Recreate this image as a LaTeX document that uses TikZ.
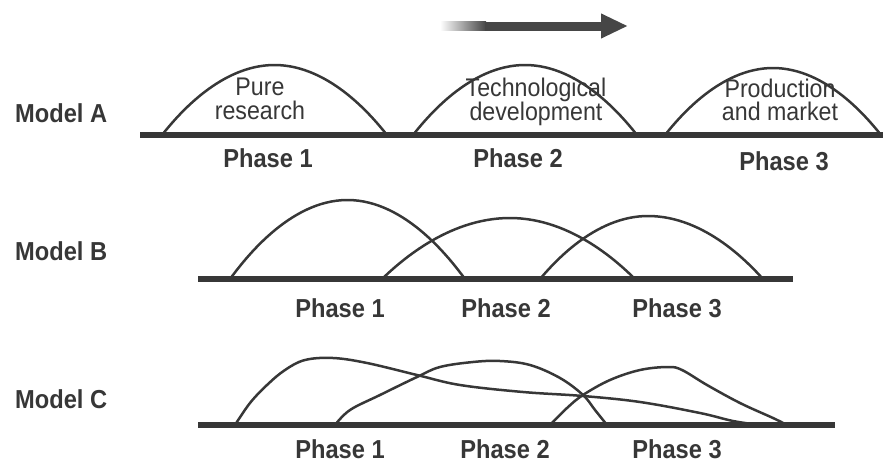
\documentclass[tikz,border=0pt]{standalone}
\usepackage{fontspec}
\setmainfont{Liberation Sans}
\newfontfamily\tallSans[FakeStretch=0.91]{Liberation Sans}
\usetikzlibrary{arrows.meta}
\definecolor{inkGray}{RGB}{55,55,55}
\definecolor{arrowGray}{RGB}{70,70,70}
\tikzset{modelLabel/.style={font=\tallSans\fontsize{26}{28}\selectfont\bfseries, text=inkGray, anchor=base west, inner sep=0pt}}
\tikzset{phaseLabel/.style={font=\tallSans\fontsize{26}{28}\selectfont\bfseries, text=inkGray, anchor=base, inner sep=0pt}}
\tikzset{stageText/.style={font=\tallSans\fontsize{25.5}{23.5}\selectfont, text=inkGray, align=center, inner sep=0pt}}
\tikzset{baseLine/.style={line width=5.5pt, draw=inkGray}}
\tikzset{phaseArc/.style={line width=2.5pt, draw=inkGray, line cap=round}}

\begin{document}
\begin{tikzpicture}[x=1pt, y=-1pt]

\useasboundingbox (0,0) rectangle (883,463);

% Direction arrow
\coordinate (arrowTail) at (440,26);
\coordinate (arrowMid) at (485,26);
\coordinate (arrowTip) at (628,26);
\shade[left color=white, right color=arrowGray] (440,21.5) rectangle (486,30.5);
\draw[line width=9pt, arrowGray, -{Triangle[length=27pt, width=23pt]}] (arrowMid) -- (arrowTip);

% Model A
\node[modelLabel] (mA) at (15,122) {Model A};
\draw[baseLine] (140,135) -- (883,135);
\draw[phaseArc] (162,135) parabola bend (274.5,65) (387,135);
\draw[phaseArc] (413,135) parabola bend (525,65) (637,135);
\draw[phaseArc] (665,135) parabola bend (773,68) (881,135);
\node[stageText] (sA1) at (260,99) {Pure\\research};
\node[stageText] (sA2) at (536,102) {Technological\\development};
\node[stageText] (sA3) at (780,100) {Production\\and market};
\node[phaseLabel] (pA1) at (268,167) {Phase 1};
\node[phaseLabel] (pA2) at (518,167) {Phase 2};
\node[phaseLabel] (pA3) at (784,170) {Phase 3};

% Model B
\node[modelLabel] (mB) at (15,260) {Model B};
\draw[baseLine] (198,279) -- (793,279);
\draw[phaseArc] (230,279) parabola bend (347.5,200) (465,279);
\draw[phaseArc] (382,279) parabola bend (510,218) (635,279);
\draw[phaseArc] (540,279) parabola bend (648,216) (763,279);
\node[phaseLabel] (pB1) at (340,317) {Phase 1};
\node[phaseLabel] (pB2) at (506,317) {Phase 2};
\node[phaseLabel] (pB3) at (677,317) {Phase 3};

% Model C
\node[modelLabel] (mC) at (15,408) {Model C};
\draw[baseLine] (198,425) -- (835,425);
\draw[phaseArc] plot[smooth, tension=0.6] coordinates {(235,425) (250,403) (267,385) (285,370) (305,360) (333,358) (367,363) (417,375) (460,385) (523,392) (583,396) (640,402) (700,413) (733,421) (760,425)};
\draw[phaseArc] plot[smooth, tension=0.6] coordinates {(335,425) (350,410) (380,395) (417,377) (440,367) (473,362) (500,361) (530,365) (560,378) (583,395) (595,410) (607,425)};
\draw[phaseArc] plot[smooth, tension=0.6] coordinates {(550,425) (567,408) (583,395) (610,380) (640,370) (668,367) (682,370) (707,385) (740,403) (773,418) (787,425)};
\node[phaseLabel] (pC1) at (340,458) {Phase 1};
\node[phaseLabel] (pC2) at (505,458) {Phase 2};
\node[phaseLabel] (pC3) at (677,458) {Phase 3};

\end{tikzpicture}
\end{document}
